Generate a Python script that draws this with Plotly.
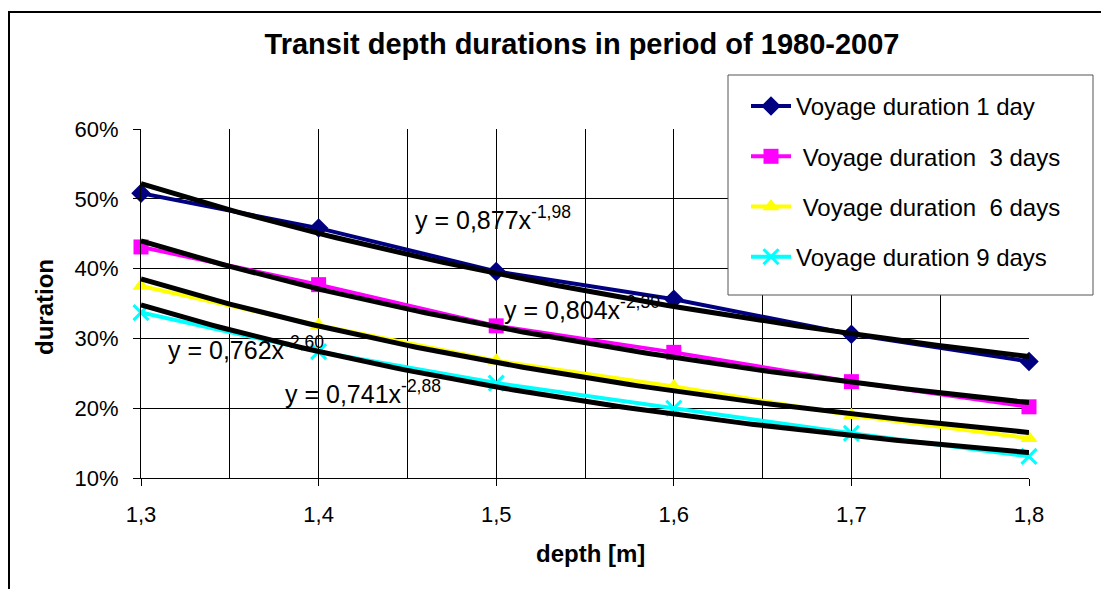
import plotly.graph_objects as go
import numpy as np

# ---- data ----
depth = [1.3, 1.4, 1.5, 1.6, 1.7, 1.8]
series_names = ["Voyage duration 1 day", "\u00a0Voyage duration\u00a0 3 days",
                "\u00a0Voyage duration\u00a0 6 days", "Voyage duration 9 days"]
dur_1day = [0.508, 0.458, 0.396, 0.356, 0.306, 0.267]
dur_3days = [0.431, 0.377, 0.318, 0.280, 0.238, 0.202]
dur_6days = [0.375, 0.319, 0.268, 0.231, 0.190, 0.157]
dur_9days = [0.337, 0.281, 0.236, 0.200, 0.164, 0.131]
# power trendline coefficients as printed on the chart: y = a * x^b
trend_a = [0.877, 0.804, 0.762, 0.741]
trend_b = [-1.98, -2.30, -2.60, -2.88]
trend_labels = ["y = 0,877x<sup>-1,98</sup>", "y = 0,804x<sup>-2,30</sup>",
                "y = 0,762x<sup>-2,60</sup>", "y = 0,741x<sup>-2,88</sup>"]
label_pos_x = [1.453, 1.503, 1.314, 1.380]
label_pos_y = [0.4725, 0.3436, 0.2862, 0.2232]
x_tick_vals = [1.3, 1.4, 1.5, 1.6, 1.7, 1.8]
x_tick_text = ["1,3", "1,4", "1,5", "1,6", "1,7", "1,8"]

colors = ["#000080", "#FF00FF", "#FFFF00", "#00FFFF"]
symbols = ["diamond", "square", "triangle-up", "x-thin"]
msizes = [15, 15, 15, 15]
values = [dur_1day, dur_3days, dur_6days, dur_9days]

FONT = "Arial, 'Liberation Sans', sans-serif"

# page body has an 8px margin: figure drawn at (8, 8)
OFF = 8
W, H = 1109 - OFF, 589 - OFF

fig = go.Figure()
for i in range(4):
    mk = dict(symbol=symbols[i], size=msizes[i], color=colors[i])
    if symbols[i] == "x-thin":
        mk["line"] = dict(color=colors[i], width=3)
    fig.add_trace(go.Scatter(
        x=depth, y=values[i], name=series_names[i], mode="lines+markers",
        line=dict(color=colors[i], width=4), marker=mk,
        legendgroup=f"g{i}", cliponaxis=False))

xs = np.linspace(1.3, 1.8, 101)
for i in range(4):
    fig.add_trace(go.Scatter(
        x=xs, y=trend_a[i] * xs ** trend_b[i], mode="lines",
        line=dict(color="black", width=5), showlegend=False, hoverinfo="skip"))

# plot area in page px: x 141..1029, y 129..478
def px_to_paper_x(px):
    return (px - 141) / 888.0

def px_to_paper_y(py):
    return (478 - py) / 349.0

shapes = [
    # outer chart border
    dict(type="rect", xref="paper", yref="paper",
         x0=px_to_paper_x(9), x1=px_to_paper_x(1130),
         y0=px_to_paper_y(610), y1=px_to_paper_y(12),
         line=dict(color="black", width=2), fillcolor="rgba(0,0,0,0)", layer="above"),
    # legend box
    dict(type="rect", xref="paper", yref="paper",
         x0=px_to_paper_x(728), x1=px_to_paper_x(1093),
         y0=px_to_paper_y(295), y1=px_to_paper_y(75),
         line=dict(color="#555555", width=1), fillcolor="white", layer="above"),
]

annotations = []
for i in range(4):
    annotations.append(dict(
        x=label_pos_x[i], y=label_pos_y[i], xref="x", yref="y",
        text=trend_labels[i], showarrow=False, xanchor="left", yanchor="middle",
        font=dict(family=FONT, size=25, color="black")))
annotations.append(dict(
    x=px_to_paper_x(44), y=px_to_paper_y(307), xref="paper", yref="paper",
    xanchor="center", yanchor="middle",
    text="<b>duration</b>", textangle=-90, showarrow=False,
    font=dict(family=FONT, size=24, color="black")))
annotations.append(dict(
    x=px_to_paper_x(590), y=px_to_paper_y(553), xref="paper", yref="paper",
    xanchor="center", yanchor="middle",
    text="<b>depth [m]</b>", showarrow=False,
    font=dict(family=FONT, size=24, color="black")))

fig.update_layout(
    width=W, height=H,
    margin=dict(l=141 - OFF, r=W - (1029 - OFF), t=129 - OFF, b=H - (478 - OFF)),
    paper_bgcolor="white", plot_bgcolor="white",
    title=dict(text="<b>Transit depth durations in period of 1980-2007</b>",
               x=(582 - OFF) / W, xanchor="center", y=1 - (44 - OFF) / H, yanchor="middle",
               font=dict(family=FONT, size=29, color="black")),
    font=dict(family=FONT, color="black"),
    showlegend=True,
    legend=dict(x=px_to_paper_x(746), y=px_to_paper_y(84), xanchor="left", yanchor="top",
                bgcolor="rgba(0,0,0,0)", borderwidth=0,
                font=dict(family=FONT, size=24, color="black"),
                tracegroupgap=16, itemwidth=40),
    shapes=shapes, annotations=annotations,
)
fig.update_xaxes(range=[1.3, 1.8], tickvals=x_tick_vals, ticktext=x_tick_text,
                 showgrid=True, gridcolor="black", gridwidth=1,
                 minor=dict(dtick=0.05, showgrid=True, gridcolor="black", gridwidth=1, ticks=""),
                 ticks="outside", ticklen=7, tickcolor="black",
                 showline=True, linecolor="black", linewidth=1,
                 tickfont=dict(family=FONT, size=22, color="black"),
                 ticklabelstandoff=10, zeroline=False)
fig.update_yaxes(range=[0.1, 0.6], dtick=0.1, tickformat=".0%",
                 showgrid=True, gridcolor="black", gridwidth=1,
                 ticks="outside", ticklen=7, tickcolor="black",
                 showline=True, linecolor="black", linewidth=1,
                 tickfont=dict(family=FONT, size=22, color="black"),
                 ticklabelstandoff=10, zeroline=False)

fig.write_html("out.html")
